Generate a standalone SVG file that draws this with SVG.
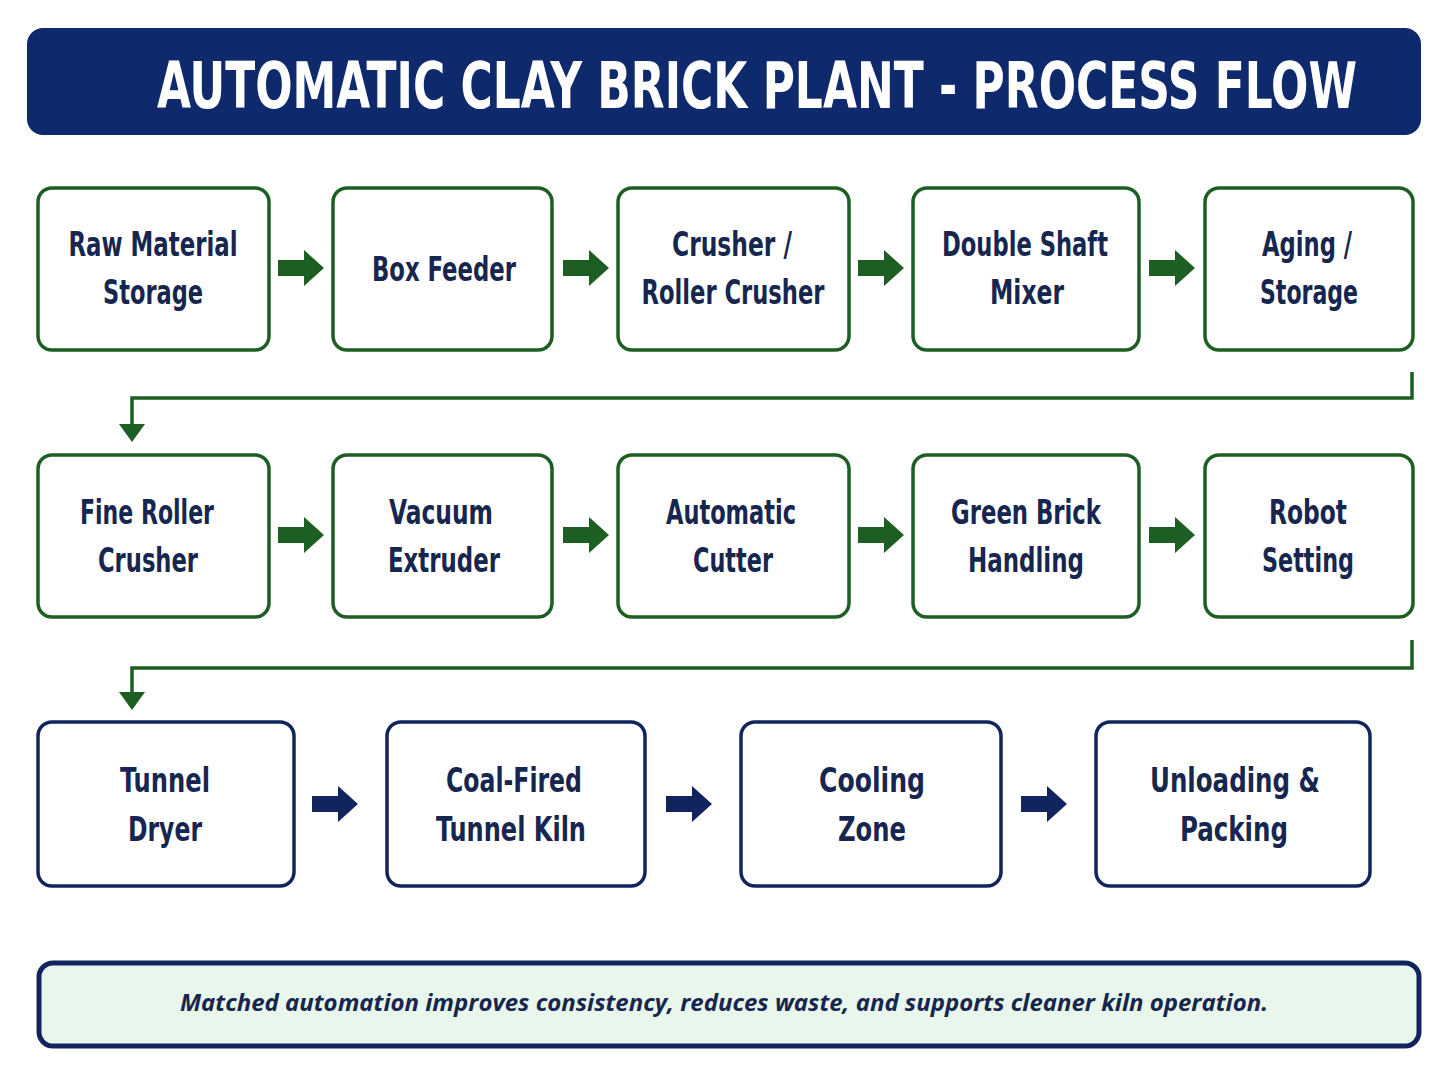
<svg xmlns="http://www.w3.org/2000/svg" width="1448" height="1086" viewBox="0 0 1448 1086">
<style>
.g{fill:#fff;stroke:#1d5e22;stroke-width:3.5}
.n{fill:#fff;stroke:#12245e;stroke-width:3.5}
.t{font-family:"DejaVu Sans Condensed","DejaVu Sans",sans-serif;font-weight:bold;font-size:34px;fill:#16264f;text-anchor:middle}
.ag{fill:#1d5e22}
.an{fill:#12245e}
.c{fill:none;stroke:#1d5e22;stroke-width:3.5}
</style>
<defs>
<path id="ar" d="M0,-8 H26 V-18 L46,0 L26,18 V8 H0 Z"/>
</defs>
<rect x="27" y="28" width="1394" height="107" rx="16" fill="#0e2a6d"/>
<text x="757" y="108" font-family="DejaVu Sans Condensed,sans-serif" font-weight="bold" font-size="64" fill="#fff" text-anchor="middle" textLength="1200" lengthAdjust="spacingAndGlyphs">AUTOMATIC CLAY BRICK PLANT - PROCESS FLOW</text>

<g id="n1"><rect class="g" x="38" y="188" width="231" height="162" rx="14"/><text class="t" x="153" y="256" textLength="169" lengthAdjust="spacingAndGlyphs">Raw Material</text><text class="t" x="153" y="304" textLength="100" lengthAdjust="spacingAndGlyphs">Storage</text></g>
<g id="n2"><rect class="g" x="333" y="188" width="219" height="162" rx="14"/><text class="t" x="444" y="281" textLength="144" lengthAdjust="spacingAndGlyphs">Box Feeder</text></g>
<g id="n3"><rect class="g" x="618" y="188" width="231" height="162" rx="14"/><text class="t" x="732" y="256" textLength="120" lengthAdjust="spacingAndGlyphs">Crusher /</text><text class="t" x="733" y="304" textLength="183" lengthAdjust="spacingAndGlyphs">Roller Crusher</text></g>
<g id="n4"><rect class="g" x="913" y="188" width="226" height="162" rx="14"/><text class="t" x="1025" y="256" textLength="166" lengthAdjust="spacingAndGlyphs">Double Shaft</text><text class="t" x="1027" y="304" textLength="74" lengthAdjust="spacingAndGlyphs">Mixer</text></g>
<g id="n5"><rect class="g" x="1205" y="188" width="208" height="162" rx="14"/><text class="t" x="1307" y="256" textLength="90" lengthAdjust="spacingAndGlyphs">Aging /</text><text class="t" x="1309" y="304" textLength="98" lengthAdjust="spacingAndGlyphs">Storage</text></g>

<g id="n6"><rect class="g" x="38" y="455" width="231" height="162" rx="14"/><text class="t" x="147" y="524" textLength="134" lengthAdjust="spacingAndGlyphs">Fine Roller</text><text class="t" x="148" y="572" textLength="100" lengthAdjust="spacingAndGlyphs">Crusher</text></g>
<g id="n7"><rect class="g" x="333" y="455" width="219" height="162" rx="14"/><text class="t" x="441" y="524" textLength="104" lengthAdjust="spacingAndGlyphs">Vacuum</text><text class="t" x="444" y="572" textLength="112" lengthAdjust="spacingAndGlyphs">Extruder</text></g>
<g id="n8"><rect class="g" x="618" y="455" width="231" height="162" rx="14"/><text class="t" x="731" y="524" textLength="130" lengthAdjust="spacingAndGlyphs">Automatic</text><text class="t" x="733" y="572" textLength="80" lengthAdjust="spacingAndGlyphs">Cutter</text></g>
<g id="n9"><rect class="g" x="913" y="455" width="226" height="162" rx="14"/><text class="t" x="1026" y="524" textLength="150" lengthAdjust="spacingAndGlyphs">Green Brick</text><text class="t" x="1026" y="572" textLength="116" lengthAdjust="spacingAndGlyphs">Handling</text></g>
<g id="n10"><rect class="g" x="1205" y="455" width="208" height="162" rx="14"/><text class="t" x="1308" y="524" textLength="78" lengthAdjust="spacingAndGlyphs">Robot</text><text class="t" x="1308" y="572" textLength="92" lengthAdjust="spacingAndGlyphs">Setting</text></g>

<g id="n11"><rect class="n" x="38" y="722" width="256" height="164" rx="14"/><text class="t" x="165" y="792" textLength="90" lengthAdjust="spacingAndGlyphs">Tunnel</text><text class="t" x="165" y="841" textLength="74" lengthAdjust="spacingAndGlyphs">Dryer</text></g>
<g id="n12"><rect class="n" x="387" y="722" width="258" height="164" rx="14"/><text class="t" x="514" y="792" textLength="136" lengthAdjust="spacingAndGlyphs">Coal-Fired</text><text class="t" x="511" y="841" textLength="150" lengthAdjust="spacingAndGlyphs">Tunnel Kiln</text></g>
<g id="n13"><rect class="n" x="741" y="722" width="260" height="164" rx="14"/><text class="t" x="872" y="792" textLength="106" lengthAdjust="spacingAndGlyphs">Cooling</text><text class="t" x="872" y="841" textLength="68" lengthAdjust="spacingAndGlyphs">Zone</text></g>
<g id="n14"><rect class="n" x="1096" y="722" width="274" height="164" rx="14"/><text class="t" x="1235" y="792" textLength="170" lengthAdjust="spacingAndGlyphs">Unloading &amp;</text><text class="t" x="1234" y="841" textLength="108" lengthAdjust="spacingAndGlyphs">Packing</text></g>

<g id="connectors">
<use href="#ar" class="ag" x="278" y="268"/><use href="#ar" class="ag" x="563" y="268"/><use href="#ar" class="ag" x="858" y="268"/><use href="#ar" class="ag" x="1149" y="268"/>
<use href="#ar" class="ag" x="278" y="535"/><use href="#ar" class="ag" x="563" y="535"/><use href="#ar" class="ag" x="858" y="535"/><use href="#ar" class="ag" x="1149" y="535"/>
<use href="#ar" class="an" x="312" y="804" transform="translate(0,0)"/><use href="#ar" class="an" x="666" y="804"/><use href="#ar" class="an" x="1021" y="804"/>
<path class="c" d="M1412,372 V398 H132 V426"/><path class="ag" d="M119,424 H145 L132,442 Z"/>
<path class="c" d="M1412,640 V668 H132 V694"/><path class="ag" d="M119,692 H145 L132,710 Z"/>
</g>

<rect x="39" y="963" width="1380" height="83" rx="14" fill="#e9f6ec" stroke="#12245e" stroke-width="5"/>
<text x="724" y="1011" font-family="Open Sans,sans-serif" font-weight="bold" font-style="italic" font-size="24" fill="#16264f" text-anchor="middle" textLength="1088" lengthAdjust="spacingAndGlyphs">Matched automation  improves consistency, reduces waste, and supports cleaner kiln operation.</text>
</svg>
